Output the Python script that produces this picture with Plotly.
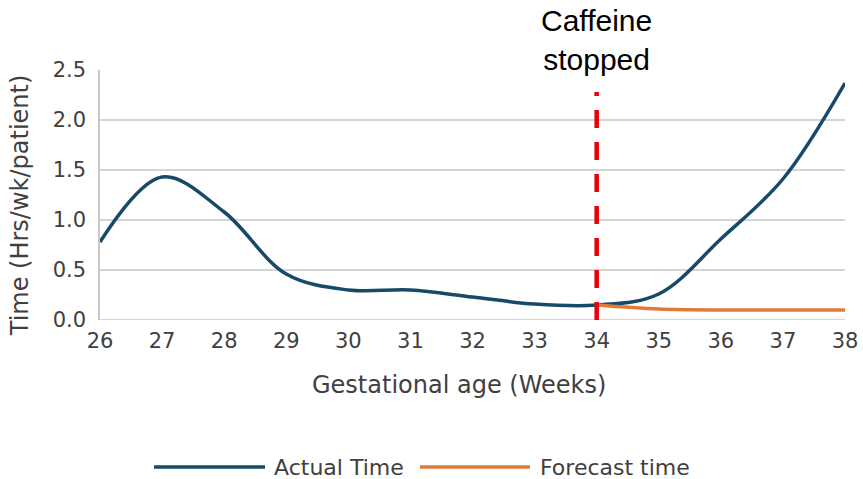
import plotly.graph_objects as go

weeks = [26, 27, 28, 29, 30, 31, 32, 33, 34, 35, 36, 37, 38]
actual_time = [0.78, 1.43, 1.08, 0.46, 0.30, 0.30, 0.23, 0.16, 0.15, 0.26, 0.81, 1.41, 2.37]
forecast_weeks = [34, 35, 36, 37, 38]
forecast_time = [0.15, 0.11, 0.10, 0.10, 0.10]
x_ticks = [26, 27, 28, 29, 30, 31, 32, 33, 34, 35, 36, 37, 38]
y_ticks = [0.0, 0.5, 1.0, 1.5, 2.0, 2.5]
stop_week = 34
stop_top = 2.28

BLUE = "#174A68"
ORANGE = "#E07B3A"
TXT = "#404040"

fig = go.Figure()
fig.add_trace(go.Scatter(x=weeks, y=actual_time, mode="lines", name="Actual Time", showlegend=False,
                         line=dict(color=BLUE, width=3.5, shape="spline", smoothing=1.0)))
fig.add_trace(go.Scatter(x=forecast_weeks, y=forecast_time, mode="lines", name="Forecast time", showlegend=False,
                         line=dict(color=ORANGE, width=3.5, shape="spline", smoothing=1.0)))
fig.add_trace(go.Scatter(x=[stop_week, stop_week], y=[0, stop_top], mode="lines", showlegend=False,
                         line=dict(color="#E8000B", width=4.5, dash="18px,14px")))
fig.add_annotation(x=stop_week, y=1.12, xref="x", yref="paper", yanchor="middle",
                   text="Caffeine<br>stopped", showarrow=False,
                   font=dict(family="Liberation Sans", size=30, color="#000000"))

# axis titles
fig.add_annotation(x=0.482, y=-0.26, xref="paper", yref="paper", yanchor="middle", xanchor="center",
                   text="Gestational age (Weeks)", showarrow=False, font=dict(size=24, color=TXT))
fig.add_annotation(x=-0.107, y=0.46, xref="paper", yref="paper", yanchor="middle", xanchor="center",
                   text="Time (Hrs/wk/patient)", textangle=-90, showarrow=False,
                   font=dict(size=24, color=TXT))

# legend (manual, long line samples)
legend_items = [("Actual Time", BLUE, 0.0725, 0.2215, 0.2309),
                ("Forecast time", ORANGE, 0.4295, 0.5772, 0.5879)]
for name, color, x0, x1, xt in legend_items:
    fig.add_shape(type="line", xref="paper", yref="paper", x0=x0, x1=x1, y0=-0.588, y1=-0.588,
                  line=dict(color=color, width=3.5))
    fig.add_annotation(x=xt, y=-0.588, xref="paper", yref="paper", xanchor="left", yanchor="middle",
                       text=name, showarrow=False, font=dict(size=22, color=TXT))

fig.update_layout(
    width=863, height=479,
    margin=dict(l=100, r=18, t=70, b=159),
    plot_bgcolor="white", paper_bgcolor="white",
    font=dict(family="DejaVu Sans", color=TXT),
    showlegend=False,
    xaxis=dict(range=[26, 38], tickvals=x_ticks, showgrid=False, zeroline=False,
               tickfont=dict(size=21), ticks="", ticklabelstandoff=6, automargin=False),
    yaxis=dict(range=[0, 2.5], tickvals=y_ticks, tickformat=".1f", showgrid=True,
               gridcolor="#D4D4D4", gridwidth=1.5, zeroline=False, showline=True,
               linecolor="#C8C8C8", linewidth=1.5, tickfont=dict(size=21), ticks="",
               ticklabelstandoff=8, automargin=False),
)
fig.add_hline(y=0, line=dict(color="#C8C8C8", width=1.5), layer="below")
fig.write_html("out.html", config={"displayModeBar": False},
               post_script="document.body.style.margin='0';document.body.style.overflow='hidden';")
